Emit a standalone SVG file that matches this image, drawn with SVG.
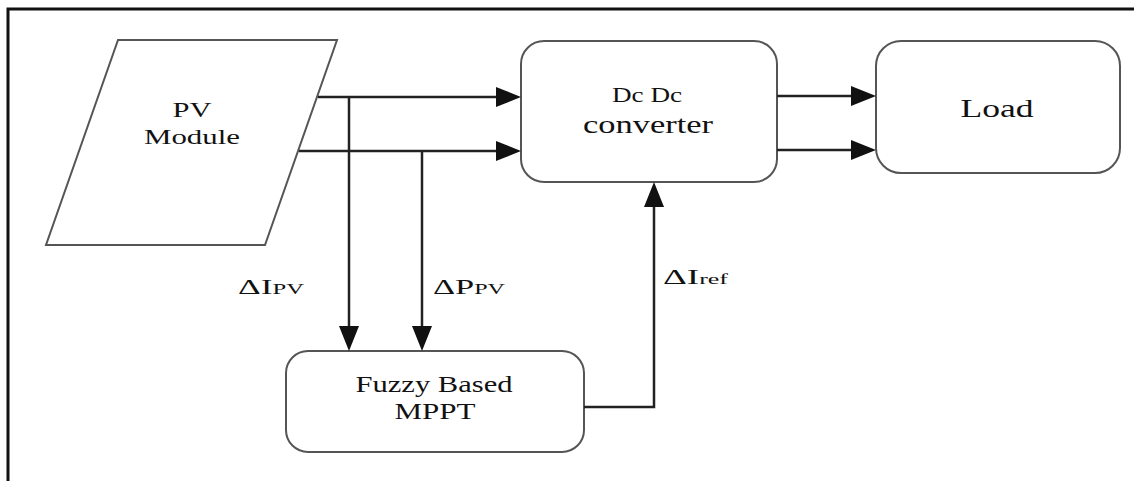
<svg xmlns="http://www.w3.org/2000/svg" width="1134" height="481" viewBox="0 0 1134 481">
<style>
.box{fill:#fff;stroke:#555;stroke-width:2}
.wire{fill:none;stroke:#222;stroke-width:2.5}
.t{font-family:"Liberation Serif","Times New Roman",serif;fill:#111;text-anchor:middle}
.lbl{font-family:"Liberation Serif","Times New Roman",serif;fill:#111}
</style>
<defs>
<marker id="arr" markerUnits="userSpaceOnUse" markerWidth="26" markerHeight="20" refX="15" refY="10" orient="auto">
<path d="M0,0 L25,10 L0,20 z" fill="#111"/>
</marker>
</defs>
<rect x="0" y="0" width="1134" height="481" fill="#fff"/>
<path d="M8,481 V9 H1134" fill="none" stroke="#111" stroke-width="3"/>

<g id="pv">
<polygon class="box" points="118,40 337,40 265,245 46,245"/>
<text class="t" x="192" y="117" font-size="22" textLength="39" lengthAdjust="spacingAndGlyphs">PV</text>
<text class="t" x="192" y="144" font-size="22" textLength="96" lengthAdjust="spacingAndGlyphs">Module</text>
</g>

<g id="dcdc">
<rect class="box" x="521" y="41" width="256" height="141" rx="23" ry="23"/>
<text class="t" x="647" y="102" font-size="20" textLength="70" lengthAdjust="spacingAndGlyphs">Dc Dc</text>
<text class="t" x="648" y="133" font-size="25" textLength="130" lengthAdjust="spacingAndGlyphs">converter</text>
</g>

<g id="load">
<rect class="box" x="876" y="41" width="244" height="132" rx="25" ry="25"/>
<text class="t" x="997" y="117" font-size="26" textLength="73" lengthAdjust="spacingAndGlyphs">Load</text>
</g>

<g id="fuzzy">
<rect class="box" x="286" y="351" width="298" height="101" rx="22" ry="22"/>
<text class="t" x="434" y="392" font-size="24" textLength="157" lengthAdjust="spacingAndGlyphs">Fuzzy Based</text>
<text class="t" x="435" y="419" font-size="24" textLength="81" lengthAdjust="spacingAndGlyphs">MPPT</text>
</g>

<g id="connectors">
<path class="wire" d="M318,97 H511" marker-end="url(#arr)"/>
<path class="wire" d="M299,151 H511" marker-end="url(#arr)"/>
<path class="wire" d="M777,96 H866" marker-end="url(#arr)"/>
<path class="wire" d="M777,150 H866" marker-end="url(#arr)"/>
<path class="wire" d="M349,97 V341" marker-end="url(#arr)"/>
<path class="wire" d="M422,151 V341" marker-end="url(#arr)"/>
<path class="wire" d="M584,407 H654 V192" marker-end="url(#arr)"/>
</g>

<g id="labels">
<text class="lbl" x="238" y="294" font-size="20" textLength="66" lengthAdjust="spacingAndGlyphs">ΔI<tspan font-size="14">PV</tspan></text>
<text class="lbl" x="433" y="294" font-size="20" textLength="72" lengthAdjust="spacingAndGlyphs">ΔP<tspan font-size="14">PV</tspan></text>
<text class="lbl" x="663" y="284" font-size="20" textLength="65" lengthAdjust="spacingAndGlyphs">ΔI<tspan font-size="14">ref</tspan></text>
</g>
</svg>
